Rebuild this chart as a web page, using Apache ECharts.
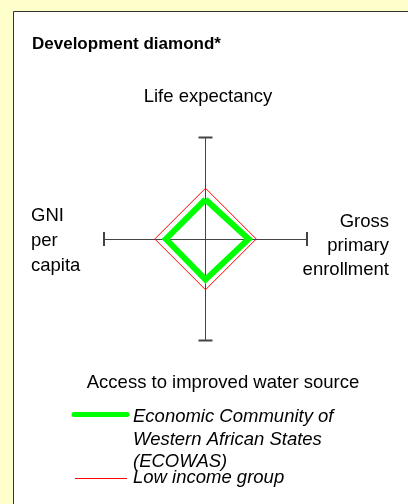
<!DOCTYPE html>
<html>
<head>
<meta charset="utf-8">
<script src="https://cdn.jsdelivr.net/npm/echarts@6/dist/echarts.min.js"></script>
<style>
html,body{margin:0;padding:0;background:#FFFFCC;}
#chart{width:408px;height:504px;}
</style>
</head>
<body>
<div id="chart"></div>
<script>
// ---- data ----
const title = 'Development diamond*';
const indicators = ['Life expectancy', 'GNI per capita', 'Access to improved water source', 'Gross primary enrollment'];
const axisLabels = ['Life expectancy', 'GNI\nper\ncapita', 'Access to improved water source', 'Gross\nprimary\nenrollment'];
const seriesNames = ['Economic Community of Western African States (ECOWAS)', 'Low income group'];
const legendLabels = ['Economic Community of\nWestern African States\n(ECOWAS)', 'Low income group'];
const ecowasValues = [39, 39, 40, 42.5];
const lowIncomeValues = [50, 50, 50, 50];
const axisMax = 100;

const FONT = "'Liberation Sans', Arial, sans-serif";
const chart = echarts.init(document.getElementById('chart'));

function txt(text, x, y, align, extra) {
  return {
    type: 'text', x: x, y: y, z: 10,
    style: Object.assign({
      text: text, fill: '#000', fontFamily: FONT, fontSize: 18.5,
      align: align, verticalAlign: 'middle'
    }, extra || {})
  };
}

chart.setOption({
  backgroundColor: '#FFFFCC',
  animation: false,
  radar: {
    center: [205.5, 239],
    radius: 101.5,
    startAngle: 90,
    shape: 'polygon',
    indicator: indicators.map(n => ({ name: n, max: axisMax, min: 0 })),
    splitNumber: 1,
    axisName: { show: false },
    splitLine: { show: false },
    splitArea: { show: false },
    axisTick: { show: false },
    axisLabel: { show: false },
    axisLine: {
      lineStyle: { color: '#444', width: 1 },
      symbol: ['none', 'rect'],
      symbolSize: [14, 2]
    }
  },
  series: [{
    type: 'radar',
    symbol: 'none',
    silent: true,
    emphasis: { disabled: true },
    lineStyle: { shadowBlur: 0, shadowColor: 'rgba(0,0,0,0)', shadowOffsetX: 0, shadowOffsetY: 0 },
    data: [
      { name: seriesNames[0], value: ecowasValues,
        lineStyle: { color: '#00FF00', width: 6, join: 'miter', shadowBlur: 0, shadowColor: 'rgba(0,0,0,0)' },
        itemStyle: { color: '#00FF00' } },
      { name: seriesNames[1], value: lowIncomeValues,
        lineStyle: { color: '#FF0000', width: 1, shadowBlur: 0, shadowColor: 'rgba(0,0,0,0)' },
        itemStyle: { color: '#FF0000' } }
    ]
  }],
  graphic: [
    { type: 'rect', z: -10, shape: { x: 13.5, y: 11.5, width: 420, height: 520 },
      style: { fill: '#FFFFFF', stroke: '#333', lineWidth: 1 } },
    txt(title, 32, 44, 'left', { fontWeight: 'bold', fontSize: 17 }),
    txt(axisLabels[0], 208, 97, 'center'),
    txt(axisLabels[1], 31, 241, 'left', { lineHeight: 25 }),
    txt(axisLabels[2], 223, 383, 'center'),
    txt(axisLabels[3], 389, 245.5, 'right', { lineHeight: 24 }),
    { type: 'rect', z: 11, shape: { x: 295, y: 275, width: 100, height: 8 }, style: { fill: '#FFFFFF' } },
    { type: 'line', z: 10, shape: { x1: 74, y1: 414.5, x2: 127, y2: 414.5 },
      style: { stroke: '#00FF00', lineWidth: 5, lineCap: 'round' } },
    txt(legendLabels[0], 133, 439.5, 'left', { fontStyle: 'italic', lineHeight: 22.5 }),
    { type: 'line', z: 10, shape: { x1: 75, y1: 478.5, x2: 127, y2: 478.5 },
      style: { stroke: '#FF0000', lineWidth: 1 } },
    txt(legendLabels[1], 133, 478, 'left', { fontStyle: 'italic' })
  ]
});
</script>
</body>
</html>
